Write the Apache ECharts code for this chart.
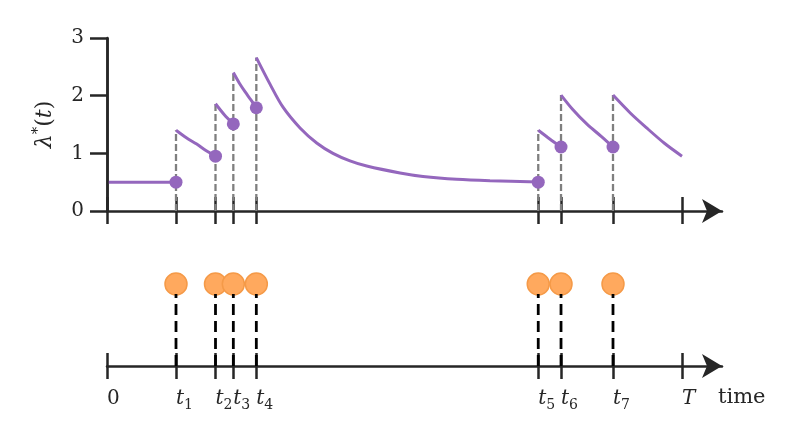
<!DOCTYPE html>
<html>
<head>
<meta charset="utf-8">
<script src="https://cdn.jsdelivr.net/npm/echarts@6/dist/echarts.min.js"></script>
<style>
html,body{margin:0;padding:0;background:#fff;}
#chart{width:800px;height:440px;}
</style>
</head>
<body>
<div id="chart"></div>
<script>
// ---------------- data ----------------
const eventTimes = [1.20, 1.887, 2.197, 2.597, 7.50, 7.896, 8.80];
const endTime = 10.0;
const tickValues = [0, 1.20, 1.887, 2.197, 2.597, 7.50, 7.896, 8.80, 10.0];
const tickLabels = ['0', 't|1', 't|2', 't|3', 't|4', 't|5', 't|6', 't|7', 'T|'];
const yTicks = [0, 1, 2, 3];

// intensity just before each event (dots) and just after (jump tops)
const preJump = [0.50, 0.95, 1.51, 1.79, 0.50, 1.11, 1.11];
const postJump = [1.40, 1.86, 2.40, 2.66, 1.40, 2.01, 2.01];

// intensity curve, one list per inter-event segment
const seg0 = [[0, 0.50], [1.20, 0.50]];
const seg1 = [[1.20, 1.40], [1.38, 1.27], [1.56, 1.16], [1.72, 1.05], [1.887, 0.95]];
const seg2 = [[1.887, 1.86], [2.04, 1.67], [2.197, 1.51]];
const seg3 = [[2.197, 2.40], [2.30, 2.22], [2.40, 2.07], [2.50, 1.93], [2.597, 1.79]];
const seg4 = [[2.597, 2.66], [2.835, 2.20], [3.061, 1.80], [3.357, 1.44], [3.647, 1.18],
              [3.93, 1.00], [4.226, 0.87], [4.517, 0.78], [5.096, 0.66], [5.496, 0.60],
              [6.082, 0.55], [6.661, 0.525], [7.50, 0.503]];
const seg5 = [[7.50, 1.40], [7.70, 1.25], [7.896, 1.11]];
const seg6 = [[7.896, 2.01], [8.10, 1.76], [8.343, 1.51], [8.60, 1.29], [8.80, 1.11]];
const seg7 = [[8.80, 2.01], [9.10, 1.70], [9.386, 1.44], [9.70, 1.17], [10.0, 0.95]];
const segments = [seg0, seg1, seg2, seg3, seg4, seg5, seg6, seg7];

// event markers in the lower panel
const markerLevel = 0.82;
const stemTop = 0.72;

// ---------------- chart ----------------
const FONT = 'DejaVu Serif';
const AX = '#262626';
const PURPLE = '#9467bd';
const XMAX = 10.6957;

const rich = {
  i: {fontFamily: FONT, fontStyle: 'italic', fontSize: 20, lineHeight: 26, verticalAlign: 'middle', color: AX},
  n: {fontFamily: FONT, fontSize: 20, lineHeight: 26, verticalAlign: 'middle', color: AX},
  s: {fontFamily: FONT, fontSize: 14, lineHeight: 14, verticalAlign: 'bottom', color: AX},
  sup: {fontFamily: FONT, fontSize: 14, lineHeight: 14, verticalAlign: 'top', color: AX}
};
const richName = {
  i: {fontFamily: FONT, fontStyle: 'italic', fontSize: 22, lineHeight: 28, verticalAlign: 'middle', color: AX},
  n: {fontFamily: FONT, fontSize: 22, lineHeight: 28, verticalAlign: 'middle', color: AX},
  sup: {fontFamily: FONT, fontSize: 15, lineHeight: 15, verticalAlign: 'top', color: AX}
};

function tickFormatter(value, index) {
  let idx = tickValues.findIndex(v => Math.abs(v - value) < 1e-6);
  if (idx < 0) idx = index;
  const lab = tickLabels[idx];
  if (lab === '0') return '{n|0}';
  const parts = lab.split('|');
  return '{i|' + parts[0] + '}' + (parts[1] ? '{s|' + parts[1] + '}' : '');
}

const series = [];

// grey dashed stems in the upper panel
eventTimes.forEach((t, k) => {
  series.push({
    type: 'line', xAxisIndex: 0, yAxisIndex: 0, z: 1,
    data: [[t, 0], [t, postJump[k]]],
    showSymbol: false, silent: true,
    lineStyle: {color: '#7f7f7f', width: 2.3, type: [7, 3]}
  });
});

// intensity curve
segments.forEach(seg => {
  series.push({
    type: 'line', xAxisIndex: 0, yAxisIndex: 0, z: 3,
    data: seg, smooth: 0.3, showSymbol: false, silent: true,
    lineStyle: {color: PURPLE, width: 3, cap: 'butt'}
  });
});

// dots at pre-jump intensity (+ the vertical y-axis spine at x = 0)
series.push({
  type: 'scatter', xAxisIndex: 0, yAxisIndex: 0, z: 4,
  data: eventTimes.map((t, k) => [t, preJump[k]]),
  symbolSize: 13, itemStyle: {color: PURPLE, opacity: 1},
  markLine: {
    silent: true, symbol: 'none', animation: false,
    label: {show: false},
    lineStyle: {color: AX, width: 2.5, type: 'solid'},
    emphasis: {disabled: true},
    data: [{xAxis: tickValues[0]}]
  }
});

// lower panel: orange event markers
series.push({
  type: 'scatter', xAxisIndex: 2, yAxisIndex: 1, z: 2,
  data: eventTimes.map(t => [t, markerLevel]),
  symbolSize: 22,
  itemStyle: {color: '#ffa95e', borderColor: '#f59a48', borderWidth: 1.5, opacity: 1}
});

// black dashed stems
eventTimes.forEach(t => {
  series.push({
    type: 'line', xAxisIndex: 2, yAxisIndex: 1, z: 3,
    data: [[t, 0], [t, stemTop]],
    showSymbol: false, silent: true,
    lineStyle: {color: '#000', width: 2.8, type: [11, 6]}
  });
});

const option = {
  animation: false,
  backgroundColor: '#fff',
  grid: [
    {left: 107, right: 78, top: 38, height: 173},
    {left: 107, right: 78, top: 266, height: 100}
  ],
  xAxis: [
    {
      gridIndex: 0, type: 'value', min: 0, max: XMAX, position: 'bottom',
      axisLine: {show: true, onZero: false, symbol: ['none', 'arrow'], symbolSize: [18, 20],
                 lineStyle: {color: AX, width: 2.5}},
      axisTick: {show: true, inside: true, length: 14, customValues: tickValues,
                 lineStyle: {color: AX, width: 2.5}},
      axisLabel: {show: false}, splitLine: {show: false}
    },
    {
      gridIndex: 0, type: 'value', min: 0, max: XMAX, position: 'bottom',
      axisLine: {show: false, onZero: false},
      axisTick: {show: true, inside: false, length: 13, customValues: tickValues,
                 lineStyle: {color: AX, width: 2.5}},
      axisLabel: {show: false}, splitLine: {show: false}
    },
    {
      gridIndex: 1, type: 'value', min: 0, max: XMAX, position: 'bottom',
      axisLine: {show: true, onZero: false, symbol: ['none', 'arrow'], symbolSize: [18, 20],
                 lineStyle: {color: AX, width: 2.5}},
      axisTick: {show: true, inside: true, length: 13, customValues: tickValues,
                 lineStyle: {color: AX, width: 2.5}},
      axisLabel: {show: true, customValues: tickValues, align: 'left', margin: 20,
                  formatter: tickFormatter, rich: rich, color: AX},
      splitLine: {show: false},
      name: 'time', nameLocation: 'end', nameGap: -4,
      nameTextStyle: {fontFamily: FONT, fontSize: 21, color: AX, align: 'left',
                      verticalAlign: 'top', padding: [21, 0, 0, 0]}
    },
    {
      gridIndex: 1, type: 'value', min: 0, max: XMAX, position: 'bottom',
      axisLine: {show: false, onZero: false},
      axisTick: {show: true, inside: false, length: 13, customValues: tickValues,
                 lineStyle: {color: AX, width: 2.5}},
      axisLabel: {show: false}, splitLine: {show: false}
    }
  ],
  yAxis: [
    {
      gridIndex: 0, type: 'value', min: yTicks[0], max: yTicks[yTicks.length - 1], interval: 1,
      axisLine: {show: true, onZero: false, lineStyle: {color: AX, width: 2.5}},
      axisTick: {show: true, inside: false, length: 17, lineStyle: {color: AX, width: 2.5}},
      axisLabel: {show: true, margin: 23, fontFamily: FONT, fontSize: 20, color: AX},
      splitLine: {show: false},
      name: '{i|λ}{sup|*}{n|(}{i|t}{n|)}', nameLocation: 'middle', nameGap: 48, nameRotate: 90,
      nameMoveOverlap: false,
      nameTextStyle: {rich: richName}
    },
    {
      gridIndex: 1, type: 'value', min: 0, max: 1, show: false
    }
  ],
  series: series
};

const chart = echarts.init(document.getElementById('chart'), null, {renderer: 'canvas'});
chart.setOption(option);
</script>
</body>
</html>
